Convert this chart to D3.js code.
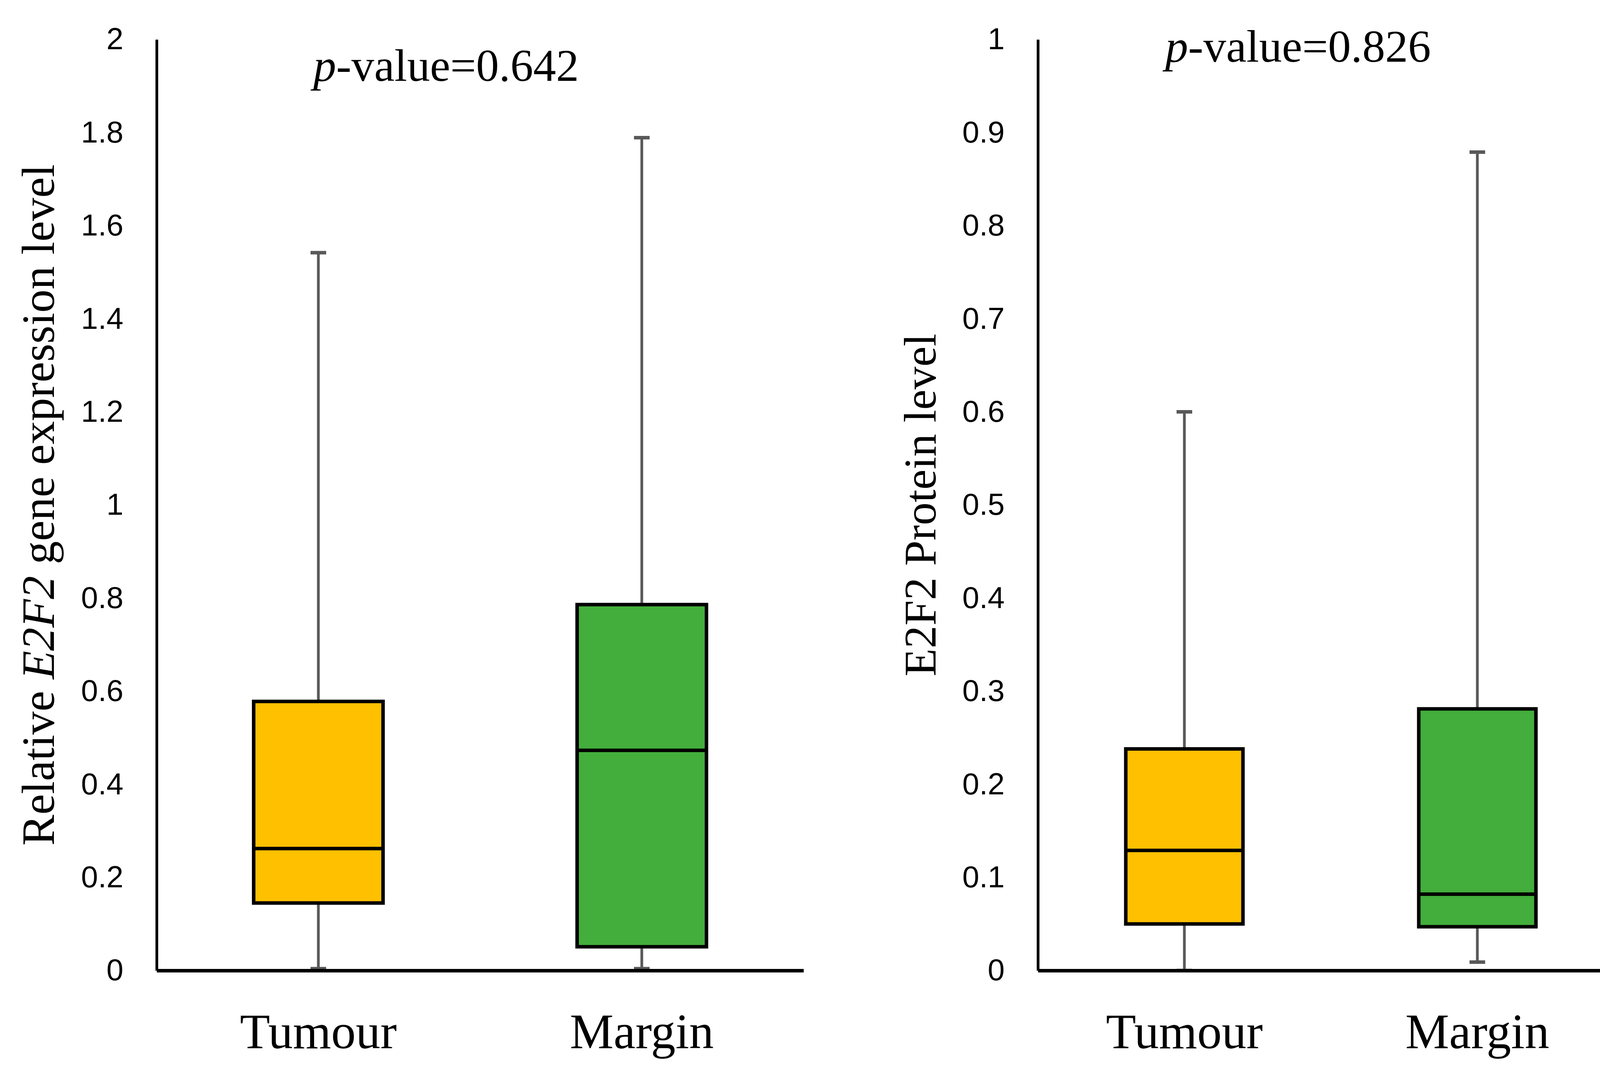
<!DOCTYPE html>
<html>
<head>
<meta charset="utf-8">
<script src="https://cdn.jsdelivr.net/npm/d3@7"></script>
<style>
  body { margin: 0; background: #ffffff; }
  svg { display: block; }
</style>
</head>
<body>
<div id="chart"></div>
<script>
// datos
var grupos = ["Tumour", "Margin"];
var colores = ["#FFC000", "#43AE3B"];

// panel izquierdo: expresion del gen
var genMin = [0.004, 0.004];
var genQ1 = [0.145, 0.051];
var genMediana = [0.262, 0.473];
var genQ3 = [0.578, 0.786];
var genMax = [1.542, 1.789];
var genTicks = [0, 0.2, 0.4, 0.6, 0.8, 1, 1.2, 1.4, 1.6, 1.8, 2];

// panel derecho: nivel de proteina
var protMin = [0, 0.009];
var protQ1 = [0.050, 0.047];
var protMediana = [0.129, 0.082];
var protQ3 = [0.238, 0.281];
var protMax = [0.600, 0.879];
var protTicks = [0, 0.1, 0.2, 0.3, 0.4, 0.5, 0.6, 0.7, 0.8, 0.9, 1];

var W = 4190, H = 2750;
var svg = d3.select("#chart").append("svg")
    .attr("width", W)
    .attr("height", H);

svg.append("rect").attr("width", W).attr("height", H).attr("fill", "#ffffff");

function panel(cfg) {
    var x = d3.scaleBand()
        .domain(grupos)
        .range([cfg.x0, cfg.x1]);
    var y = d3.scaleLinear()
        .domain([0, cfg.maxY])
        .range([2485, 101]);

    var datos = grupos.map(function(g, i) {
        return {
            g: g, color: colores[i],
            min: cfg.min[i], q1: cfg.q1[i], med: cfg.med[i], q3: cfg.q3[i], max: cfg.max[i]
        };
    });

    var anchoCaja = x.bandwidth() * 0.4;
    var g = svg.append("g");

    var cajas = g.selectAll(".caja").data(datos).enter().append("g");

    // bigotes
    cajas.append("line")
        .attr("x1", d => x(d.g) + x.bandwidth() / 2)
        .attr("x2", d => x(d.g) + x.bandwidth() / 2)
        .attr("y1", d => y(d.max))
        .attr("y2", d => y(d.q3))
        .attr("stroke", "#595959")
        .attr("stroke-width", 7);
    cajas.append("line")
        .attr("x1", d => x(d.g) + x.bandwidth() / 2)
        .attr("x2", d => x(d.g) + x.bandwidth() / 2)
        .attr("y1", d => y(d.q1))
        .attr("y2", d => y(d.min))
        .attr("stroke", "#595959")
        .attr("stroke-width", 7);
    // topes
    ["max", "min"].forEach(function(k) {
        cajas.append("line")
            .attr("x1", d => x(d.g) + x.bandwidth() / 2 - 20)
            .attr("x2", d => x(d.g) + x.bandwidth() / 2 + 20)
            .attr("y1", d => y(d[k]))
            .attr("y2", d => y(d[k]))
            .attr("stroke", "#595959")
            .attr("stroke-width", 9);
    });

    // caja
    cajas.append("rect")
        .attr("x", d => x(d.g) + (x.bandwidth() - anchoCaja) / 2)
        .attr("y", d => y(d.q3))
        .attr("width", anchoCaja)
        .attr("height", d => y(d.q1) - y(d.q3))
        .attr("fill", d => d.color)
        .attr("stroke", "#000000")
        .attr("stroke-width", 9);
    // mediana
    cajas.append("line")
        .attr("x1", d => x(d.g) + (x.bandwidth() - anchoCaja) / 2)
        .attr("x2", d => x(d.g) + (x.bandwidth() + anchoCaja) / 2)
        .attr("y1", d => y(d.med))
        .attr("y2", d => y(d.med))
        .attr("stroke", "#000000")
        .attr("stroke-width", 9);

    // eje y
    var ejeY = g.append("g")
        .attr("transform", "translate(" + cfg.x0 + ",0)")
        .call(d3.axisLeft(y).tickValues(cfg.ticks).tickSize(0).tickSizeOuter(0).tickPadding(85)
            .tickFormat(d => String(+d.toFixed(1))));
    ejeY.select(".domain").attr("stroke", "#000000").attr("stroke-width", 7);
    ejeY.selectAll("text")
        .attr("font-family", "'Liberation Sans', Arial, sans-serif")
        .attr("font-size", 78)
        .attr("fill", "#000000");

    // eje x
    var ejeX = g.append("g")
        .attr("transform", "translate(0," + y(0) + ")")
        .call(d3.axisBottom(x).tickSize(0).tickSizeOuter(0).tickPadding(110));
    ejeX.select(".domain").attr("stroke", "#000000").attr("stroke-width", 9);
    ejeX.selectAll("text")
        .attr("font-family", "'Liberation Serif', 'Times New Roman', serif")
        .attr("font-size", 126)
        .attr("fill", "#000000");

    // titulo del eje y
    var titulo = g.append("text")
        .attr("transform", "translate(" + cfg.tituloX + "," + ((y(0) + y(cfg.maxY)) / 2) + ") rotate(-90)")
        .attr("text-anchor", "middle")
        .attr("font-family", "'Liberation Serif', 'Times New Roman', serif")
        .attr("font-size", cfg.tituloSize)
        .attr("fill", "#000000");
    cfg.titulo.forEach(function(p) {
        titulo.append("tspan").attr("font-style", p[1] ? "italic" : "normal").text(p[0]);
    });

    // p-valor
    var pv = g.append("text")
        .attr("x", cfg.pX)
        .attr("y", cfg.pY)
        .attr("text-anchor", "middle")
        .attr("font-family", "'Liberation Serif', 'Times New Roman', serif")
        .attr("font-size", 117)
        .attr("fill", "#000000");
    pv.append("tspan").attr("font-style", "italic").text("p");
    pv.append("tspan").text("-value=" + cfg.p);
}

panel({
    x0: 401, x1: 2057, maxY: 2, ticks: genTicks,
    min: genMin, q1: genQ1, med: genMediana, q3: genQ3, max: genMax,
    titulo: [["Relative ", false], ["E2F2", true], [" gene expression level", false]],
    tituloX: 138, tituloSize: 119,
    pX: 1142, pY: 207, p: "0.642"
});

panel({
    x0: 2657, x1: 4157, maxY: 1, ticks: protTicks,
    min: protMin, q1: protQ1, med: protMediana, q3: protQ3, max: protMax,
    titulo: [["E2F2 Protein level", false]],
    tituloX: 2395, tituloSize: 117,
    pX: 3323, pY: 158, p: "0.826"
});
</script>
</body>
</html>
